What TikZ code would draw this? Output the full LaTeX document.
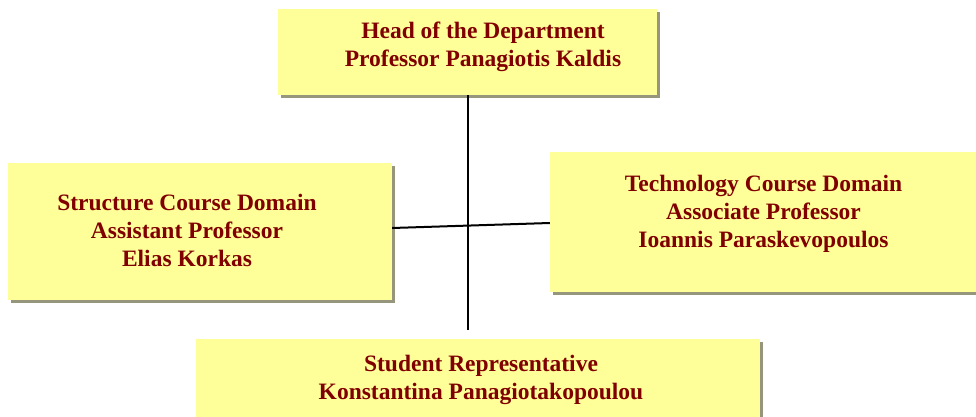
\documentclass[tikz,border=0pt]{standalone}
\usepackage{fontspec}
\setmainfont{Liberation Serif}
\usepackage{xcolor}
\usepackage{tikz}
\usetikzlibrary{positioning,shadows}

\definecolor{boxyellow}{RGB}{255,255,153}
\definecolor{titlered}{RGB}{128,0,0}
\definecolor{shadowgray}{RGB}{150,150,125}

\begin{document}
\begin{tikzpicture}[x=1pt,y=1pt,
  unit/.style={
    rectangle,fill=boxyellow,inner sep=0pt,
    drop shadow={shadow xshift=3pt,shadow yshift=-3pt,fill=shadowgray,opacity=1}
  },
  title/.style={
    text=titlered,inner sep=0pt,align=center,
    font=\fontsize{23.5}{28}\selectfont\bfseries
  },
  link/.style={line width=2pt,black}
]
\useasboundingbox (0,0) rectangle (976,416);

\node[unit, minimum width=379pt, minimum height=86pt] (head) at (467.5,364) {};
\node[unit, minimum width=384pt, minimum height=137pt] (struct) at (200,184.5) {};
\node[unit, minimum width=480pt, minimum height=140pt] (tech) at (790,194) {};
\node[unit, minimum width=564pt, minimum height=91pt] (student) at (478,31.5) {};

\node[title] (headtxt) at (483,369.5) {Head of the Department\\Professor Panagiotis Kaldis};
\node[title] (structtxt) at (187,186) {Structure Course Domain\\Assistant Professor\\Elias Korkas};
\node[title] (techtxt) at (763.5,202) {Technology Course Domain\\Associate Professor\\Ioannis Paraskevopoulos};
\node[title] (studenttxt) at (481,36.5) {Student Representative\\Konstantina Panagiotakopoulou};

\coordinate[below=235pt of head.south] (stem);

\draw[link] (head.south) -- (stem);
\draw[link] ([yshift=3.5pt]struct.east) -- ([yshift=-1pt]tech.west);

\end{tikzpicture}
\end{document}
